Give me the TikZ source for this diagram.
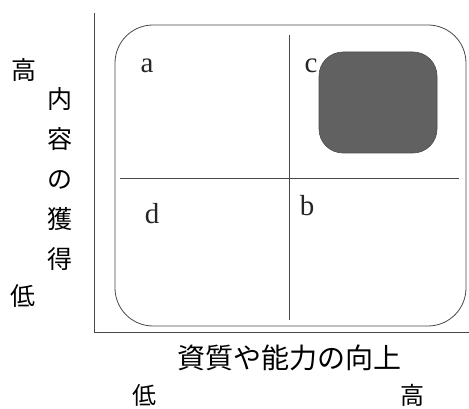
\documentclass[tikz,border=0pt]{standalone}
\usepackage{fontspec}
\newfontfamily\jpfont{Noto Sans CJK JP}
\newfontfamily\latfont{Liberation Serif}
\begin{document}
\begin{tikzpicture}[x=1pt,y=-1pt,
  line/.style={draw=black!72, line width=0.8pt},
  jp/.style={font=\jpfont\fontsize{25}{40}\selectfont, inner sep=0pt, text=black},
  jpbig/.style={font=\jpfont\fontsize{28}{28}\selectfont, inner sep=0pt, text=black},
  lt/.style={font=\latfont\fontsize{29}{29}\selectfont, inner sep=0pt, anchor=base, text=black!85}]
\useasboundingbox (0,0) rectangle (469,409);
% axes
\coordinate (ytop) at (94,13);
\coordinate (origin) at (94,332);
\coordinate (xend) at (469,332);
\draw[line] (ytop) -- (origin) -- (xend);
% frame
\node[line, rounded corners=38pt, minimum width=351pt, minimum height=301pt, inner sep=0pt] (frame) at (290.5,175.5) {};
% dividers
\coordinate (vtop) at (289,35);
\coordinate (vbot) at (289,320);
\coordinate (hleft) at (120,178);
\coordinate (hright) at (459,178);
\draw[line] (vtop) -- (vbot);
\draw[line] (hleft) -- (hright);
% shaded region
\node[fill=black!62, draw=black!70, line width=0.6pt, rounded corners=24pt, minimum width=118pt, minimum height=101pt, inner sep=0pt] (zone) at (378,102.5) {};
% quadrant labels
\node[lt] (la) at (147,73) {a};
\node[lt] (lc) at (311,73) {c};
\node[lt] (ld) at (152,224) {d};
\node[lt] (lb) at (307,216) {b};
% vertical axis labels
\node[jp] (yhigh) at (24,70) {高};
\node[jp] (ylow) at (23,296) {低};
\node[jp, align=center] (ytitle) at (60,179.5) {内\\容\\の\\獲\\得};
% horizontal axis labels
\node[jpbig] (xtitle) at (289,358) {資質や能力の向上};
\node[jp, font=\jpfont\fontsize{24}{24}\selectfont] (xlow) at (144,395) {低};
\node[jp, font=\jpfont\fontsize{24}{24}\selectfont] (xhigh) at (412,395) {高};
\end{tikzpicture}
\end{document}
